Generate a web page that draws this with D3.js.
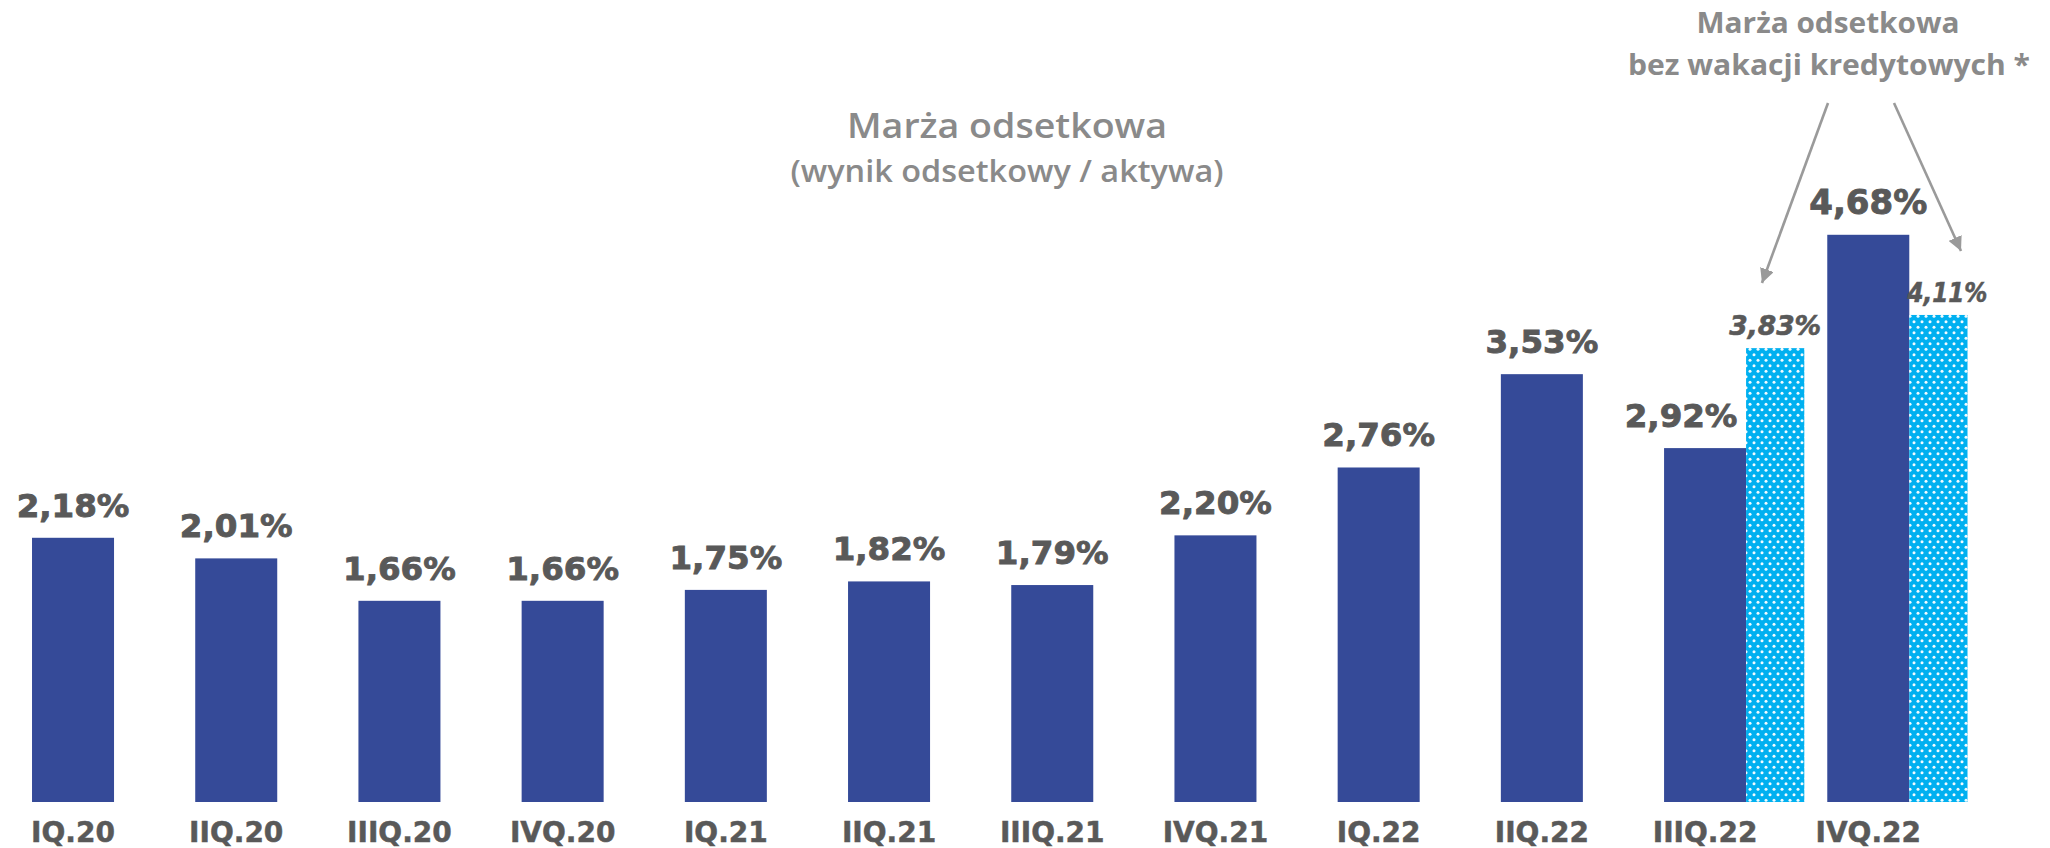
<!DOCTYPE html>
<html>
<head>
<meta charset="utf-8">
<script src="https://cdn.jsdelivr.net/npm/d3@7"></script>
<style>
  html, body { margin: 0; padding: 0; background: #ffffff; }
  svg { display: block; }
</style>
</head>
<body>
<svg id="chart" width="2050" height="848"></svg>
<script>
// ---- data ----
const categories = ["IQ.20","IIQ.20","IIIQ.20","IVQ.20","IQ.21","IIQ.21","IIIQ.21","IVQ.21","IQ.22","IIQ.22","IIIQ.22","IVQ.22"];
const margin = [2.18, 2.01, 1.66, 1.66, 1.75, 1.82, 1.79, 2.20, 2.76, 3.53, 2.92, 4.68];
const marginLabels = ["2,18%","2,01%","1,66%","1,66%","1,75%","1,82%","1,79%","2,20%","2,76%","3,53%","2,92%","4,68%"];
const exHolidayCats = ["IIIQ.22","IVQ.22"];
const exHoliday = [3.83, 4.11];
const exHolidayLabels = ["3,83%","4,11%"];
const titleLines = ["Marża odsetkowa", "(wynik odsetkowy / aktywa)"];
const noteLines = ["Marża odsetkowa", "bez wakacji kredytowych *"];

// ---- setup ----
const svg = d3.select("#chart");
const DARK = "#354a98", LIGHT = "#00b0f0", LABEL = "#595959", GRAY = "#8a8a8a";

const defs = svg.append("defs");
const pat = defs.append("pattern")
  .attr("id", "dots").attr("patternUnits", "userSpaceOnUse")
  .attr("width", 8).attr("height", 11);
pat.append("rect").attr("width", 8).attr("height", 11).attr("fill", LIGHT);
pat.append("circle").attr("cx", 2).attr("cy", 2.75).attr("r", 1.5).attr("fill", "#f2fbff");
pat.append("circle").attr("cx", 6).attr("cy", 8.25).attr("r", 1.5).attr("fill", "#f2fbff");

defs.append("marker")
  .attr("id", "arrow").attr("viewBox", "0 0 10 10")
  .attr("refX", 10).attr("refY", 5)
  .attr("markerWidth", 5.5).attr("markerHeight", 5.5)
  .attr("markerUnits", "strokeWidth")
  .attr("orient", "auto")
  .append("path").attr("d", "M0,0 L10,5 L0,10 Z").attr("fill", "#9a9a9a");

const x = d3.scaleBand()
  .domain(categories)
  .range([15.7, 1925.6])
  .paddingInner(0.4975)
  .paddingOuter(0.1);

const y = d3.scaleLinear().domain([0, 5]).range([802, 196]);
const y2 = d3.scaleLinear().domain([0, 5]).range([802, 209.5]);
const lightW = x.bandwidth() * 0.71;

// dark bars
svg.append("g").selectAll("rect")
  .data(categories)
  .join("rect")
  .attr("x", d => x(d))
  .attr("y", (d, i) => y(margin[i]))
  .attr("width", x.bandwidth())
  .attr("height", (d, i) => y(0) - y(margin[i]))
  .attr("fill", DARK);

// dark labels (the IIIQ.22 label sits left of centre, clear of the neighbouring bar)
svg.append("g").selectAll("text")
  .data(categories)
  .join("text")
  .attr("x", (d, i) => x(d) + x.bandwidth() / 2 - (i === 10 ? 24 : 0))
  .attr("y", (d, i) => y(margin[i]) - 21)
  .attr("text-anchor", "middle")
  .attr("font-family", "DejaVu Sans")
  .attr("font-weight", "bold")
  .attr("font-size", (d, i) => i === categories.length - 1 ? 34 : 32.5)
  .attr("fill", LABEL)
  .attr("stroke", LABEL)
  .attr("stroke-width", 0.9)
  .text((d, i) => marginLabels[i]);

// light (ex credit holiday) bars
svg.append("g").selectAll("rect")
  .data(exHolidayCats)
  .join("rect")
  .attr("x", d => x(d) + x.bandwidth())
  .attr("y", (d, i) => y2(exHoliday[i]))
  .attr("width", lightW)
  .attr("height", (d, i) => y2(0) - y2(exHoliday[i]))
  .attr("fill", "url(#dots)");

svg.append("g").selectAll("text")
  .data(exHolidayCats)
  .join("text")
  .attr("x", (d, i) => x(d) + x.bandwidth() + lightW / 2 + (i === 1 ? 9 : 0))
  .attr("y", (d, i) => y2(exHoliday[i]) - 13)
  .attr("text-anchor", "middle")
  .attr("font-family", "DejaVu Sans")
  .attr("font-weight", "bold")
  .attr("font-style", "italic")
  .attr("font-size", 26)
  .attr("textLength", (d, i) => i === 1 ? 80 : 92)
  .attr("lengthAdjust", "spacingAndGlyphs")
  .attr("fill", LABEL)
  .attr("stroke", LABEL)
  .attr("stroke-width", 0.6)
  .text((d, i) => exHolidayLabels[i]);

// x axis labels
const xAxis = d3.axisBottom(x).tickSize(0).tickPadding(0);
const gx = svg.append("g").attr("transform", "translate(0,842)").call(xAxis);
gx.select(".domain").remove();
gx.selectAll("text")
  .attr("dy", 0)
  .attr("y", 0)
  .attr("font-family", "DejaVu Sans")
  .attr("font-weight", "bold")
  .attr("font-size", 28)
  .attr("fill", LABEL)
  .attr("stroke", LABEL)
  .attr("stroke-width", 0.5);

// title
const titleG = svg.append("g").attr("font-family", "Open Sans").attr("font-weight", 600).attr("fill", GRAY).attr("text-anchor", "middle");
titleG.append("text").attr("x", 1007).attr("y", 138).attr("font-size", 35)
  .attr("textLength", 320).attr("lengthAdjust", "spacingAndGlyphs").text(titleLines[0]);
titleG.append("text").attr("x", 1007).attr("y", 182).attr("font-size", 31)
  .attr("textLength", 433).attr("lengthAdjust", "spacingAndGlyphs").text(titleLines[1]);

// annotation
const noteG = svg.append("g").attr("font-family", "Open Sans").attr("font-weight", 700).attr("fill", GRAY).attr("text-anchor", "middle");
noteG.append("text").attr("x", 1828).attr("y", 33).attr("font-size", 28)
  .attr("textLength", 263).attr("lengthAdjust", "spacingAndGlyphs").text(noteLines[0]);
noteG.append("text").attr("x", 1829).attr("y", 75).attr("font-size", 28)
  .attr("textLength", 402).attr("lengthAdjust", "spacingAndGlyphs").text(noteLines[1]);

// arrows
const arrows = [[1828, 103, 1762, 283], [1894, 103, 1961, 251]];
svg.append("g").selectAll("line")
  .data(arrows)
  .join("line")
  .attr("x1", d => d[0]).attr("y1", d => d[1])
  .attr("x2", d => d[2]).attr("y2", d => d[3])
  .attr("stroke", "#9a9a9a")
  .attr("stroke-width", 2.6)
  .attr("marker-end", "url(#arrow)");
</script>
</body>
</html>
